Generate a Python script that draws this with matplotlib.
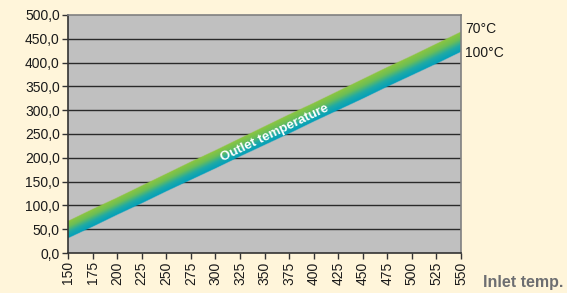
import numpy as np
import matplotlib
matplotlib.use('Agg')
import matplotlib.pyplot as plt
from matplotlib.colors import LinearSegmentedColormap

plt.rcParams['font.family'] = ['Liberation Sans', 'DejaVu Sans']

# inlet temperature (x) and outlet temperature for the two curves
inlet = [150, 175, 200, 225, 250, 275, 300, 325, 350, 375, 400, 425, 450, 475, 500, 525, 550]
outlet_70 = [67, 92, 116, 141, 166, 191, 215, 240, 265, 290, 314, 339, 364, 389, 413, 438, 463]
outlet_100 = [31, 55, 80, 104, 129, 153, 177, 202, 226, 250, 275, 299, 323, 348, 372, 396, 421]
yticks = [0, 50, 100, 150, 200, 250, 300, 350, 400, 450, 500]

bg = '#FFF5DA'
fig = plt.figure(figsize=(5.67, 2.93), dpi=100, facecolor=bg)
ax = fig.add_axes([0.12, 0.1365, 0.693, 0.8125])
ax.set_facecolor('#C0C0C0')
ax.set_xlim(150, 550)
ax.set_ylim(0, 500)

for v in yticks[1:-1]:
    ax.axhline(v, color='#2A2A2A', lw=1.0, zorder=1)

# gradient band between the two curves (green on top, teal at bottom)
cmap = LinearSegmentedColormap.from_list('band', ['#009FBC', '#1FAAA6', '#6CBE55', '#8DC63F'])
gx = np.linspace(150, 550, 900)
gy = np.linspace(0, 500, 900)
X, Y = np.meshgrid(gx, gy)
lo = np.interp(X, inlet, outlet_100)
hi = np.interp(X, inlet, outlet_70)
t = (Y - lo) / (hi - lo)
rgba = cmap(np.clip(t, 0, 1))
rgba[..., 3] = ((t >= 0) & (t <= 1)).astype(float)
ax.imshow(rgba, extent=(150, 550, 0, 500), origin='lower', aspect='auto',
          interpolation='bilinear', zorder=2)

ax.text(360, 251, 'Outlet temperature', color='white', fontweight='bold',
        fontsize=9.5, rotation=25.5, ha='center', va='center',
        rotation_mode='anchor', zorder=3)

ax.set_xticks(inlet)
ax.set_xticklabels([str(v) for v in inlet], rotation=90, fontsize=10, color='#1A1A1A')
ax.set_yticks(yticks)
ax.set_yticklabels([('%.1f' % v).replace('.', ',') for v in yticks], fontsize=10, color='#1A1A1A')
ax.tick_params(direction='out', length=4, width=1, color='#333333', pad=2)
for s in ax.spines.values():
    s.set_color('#808080')
    s.set_linewidth(1.2)
ax.spines['left'].set_color('#333333')
ax.spines['bottom'].set_color('#333333')

fig.text(465 / 567, 1 - 29 / 293, '70°C', fontsize=10, color='#1A1A1A', va='center')
fig.text(465 / 567, 1 - 53 / 293, '100°C', fontsize=10, color='#1A1A1A', va='center')
fig.text(483 / 567, 1 - 283 / 293, 'Inlet temp.', fontsize=11.5, fontweight='bold',
         color='#6D6E71', va='center')

fig.savefig('out.png', dpi=100, facecolor=bg)
